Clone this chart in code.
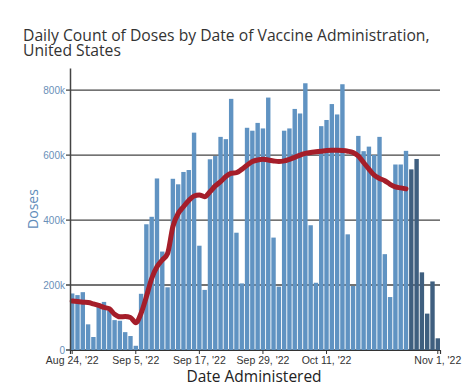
<!DOCTYPE html>
<html>
<head>
<meta charset="utf-8">
<script src="https://cdn.jsdelivr.net/npm/d3@7"></script>
<style>
	body { margin: 0; background: #fff; }
	svg { display: block; }
</style>
</head>
<body>
<div id="container"></div>
<script>
// daily doses (thousands), Aug 24 '22 .. Nov 1 '22
const startDay = "2022-08-24";
const endDay = "2022-11-01";
const doses = [
	174, 169, 178, 79, 40, 135, 148, 122, 92, 90, 55, 43, 13,
	173, 387, 410, 528, 303, 193,
	527, 510, 548, 554, 669, 321, 185,
	587, 597, 656, 649, 773, 361, 205,
	684, 675, 699, 682, 777, 346, 195,
	675, 682, 742, 728, 821, 384, 207,
	689, 708, 757, 725, 818, 356, 197,
	659, 612, 626, 600, 656, 295, 163,
	571, 571, 613, 556, 588, 239, 112,
	211, 36
];
// 7 day average (thousands), Aug 24 .. Oct 26
const avg7 = [
	151, 149, 147, 146, 142, 137, 131, 127,
	110, 102, 103, 100, 84, 113, 164, 220, 256, 277, 297, 380, 420, 441, 460, 474, 477,
	472, 487, 505, 518, 534, 544, 546, 556, 569, 580, 585, 587, 585,
	582, 580, 582, 587, 593, 600, 605, 608, 610, 612, 614, 615, 615, 614, 612, 608,
	597, 577, 557, 538, 528, 521, 510, 502, 499, 496
];
// last days still incomplete (darker bars)
const incompleteFrom = "2022-10-27";
const titleLines = ["Daily Count of Doses by Date of Vaccine Administration,", "United States"];
const xTickDays = ["2022-08-24", "2022-09-05", "2022-09-17", "2022-09-29", "2022-10-11", "2022-11-01"];
const yTicks = [0, 200000, 400000, 600000, 800000];

window.addEventListener("load", () => drawChart());

function drawChart() {
	const width = 474;
	const height = 388;
	const plot = { left: 70, right: 440, top: 68, bottom: 350 };

	const parse = d3.timeParse("%Y-%m-%d");
	const days = d3.timeDay.range(parse(startDay), d3.timeDay.offset(parse(endDay), 1));
	const data = days.map((d, i) => ({ date: d, value: doses[i] * 1000 }));
	const lineData = avg7.map((v, i) => ({ date: days[i], value: v * 1000 }));
	const cutoff = parse(incompleteFrom);

	const svg = d3
		.select("#container")
		.append("svg")
		.attr("width", width)
		.attr("height", height);

	const x = d3
		.scaleBand()
		.domain(days.map((d) => +d))
		.range([plot.left, plot.right])
		.paddingInner(0.17)
		.paddingOuter(0);

	const y = d3
		.scaleLinear()
		.domain([0, 868000])
		.range([plot.bottom, plot.top]);

	// title, two lines
	svg.append("g")
		.selectAll("text")
		.data(titleLines)
		.join("text")
		.attr("x", 23)
		.attr("y", (d, i) => 41 + i * 15)
		.attr("font-family", "Open Sans")
		.attr("font-size", 15.7)
		.attr("fill", "#333")
		.text((d) => d);

	// gridlines
	svg.append("g")
		.selectAll("line")
		.data(yTicks)
		.join("line")
		.attr("x1", plot.left - 4)
		.attr("x2", plot.right)
		.attr("y1", (d) => y(d))
		.attr("y2", (d) => y(d))
		.attr("stroke", "#444")
		.attr("stroke-width", 1.3);

	// bars
	svg.append("g")
		.selectAll("rect")
		.data(data)
		.join("rect")
		.attr("x", (d) => x(+d.date))
		.attr("width", x.bandwidth())
		.attr("y", (d) => y(d.value))
		.attr("height", (d) => y(0) - y(d.value))
		.attr("fill", (d) => (d.date >= cutoff ? "#3f5f7f" : "#6093c2"));

	// 7 day average line
	const line = d3
		.line()
		.x((d) => x(+d.date) + x.bandwidth() / 2)
		.y((d) => y(d.value))
		.curve(d3.curveMonotoneX);

	svg.append("path")
		.attr("d", line(lineData))
		.attr("fill", "none")
		.attr("stroke", "#a51e2a")
		.attr("stroke-width", 5)
		.attr("stroke-linejoin", "round")
		.attr("stroke-linecap", "round");

	// y axis
	const yAxis = d3
		.axisLeft(y)
		.tickValues(yTicks)
		.tickFormat((d) => (d ? d / 1000 + "k" : "0"))
		.tickSize(0)
		.tickPadding(5);

	const gy = svg.append("g")
		.attr("transform", `translate(${plot.left},0)`)
		.call(yAxis);
	gy.select(".domain").attr("stroke", "#444").attr("stroke-width", 1.5);
	gy.selectAll("text")
		.attr("font-family", "Liberation Sans")
		.attr("font-size", 10)
		.attr("fill", "#6a8fb8");

	// x axis
	const fmt = d3.timeFormat("%b %-d, '%y");
	const xAxis = d3
		.axisBottom(x)
		.tickValues(xTickDays.map((s) => +parse(s)))
		.tickFormat((d) => fmt(new Date(d)))
		.tickSize(4)
		.tickSizeOuter(4)
		.tickPadding(3);

	const gx = svg.append("g")
		.attr("transform", `translate(0,${plot.bottom})`)
		.call(xAxis);
	gx.select(".domain").attr("stroke", "#333").attr("stroke-width", 1.2);
	gx.selectAll(".tick line").attr("stroke", "#333");
	gx.selectAll("text")
		.attr("font-family", "Liberation Sans")
		.attr("font-size", 10.5)
		.attr("fill", "#333");

	// axis titles
	svg.append("text")
		.attr("transform", `translate(38,209) rotate(-90)`)
		.attr("text-anchor", "middle")
		.attr("font-family", "Open Sans")
		.attr("font-size", 14)
		.attr("fill", "#5f8cba")
		.text("Doses");

	svg.append("text")
		.attr("x", 254)
		.attr("y", 382)
		.attr("text-anchor", "middle")
		.attr("font-family", "Open Sans")
		.attr("font-size", 15.5)
		.attr("fill", "#222")
		.text("Date Administered");
}
</script>
</body>
</html>
